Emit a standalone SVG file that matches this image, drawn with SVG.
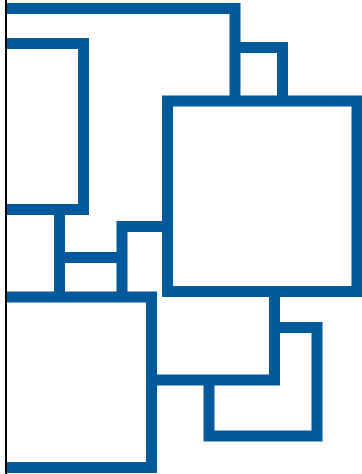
<svg xmlns="http://www.w3.org/2000/svg" width="362" height="474" viewBox="0 0 362 474">
<style>
.b{fill:none;stroke:#02599C;stroke-width:11;stroke-linejoin:miter;stroke-linecap:butt}
.k{stroke:#000;stroke-width:2}
</style>
<rect width="362" height="474" fill="#fff"/>
<g id="big"><rect class="b" x="167.5" y="101" width="189.5" height="190.5"/></g>
<g id="top"><path class="b" d="M5,8.5H235V101"/></g>
<g id="topSquare"><path class="b" d="M235,47.5H282.5V101"/></g>
<g id="upperLeft"><path class="b" d="M5,43.5H83.5V209.5H5"/></g>
<g id="midLeft"><path class="b" d="M59.5,209.5V297M59.5,257.5H122M122,297V226.5H167.5"/></g>
<g id="bottomLeft"><path class="b" d="M5,297H151.5V467.5H5"/></g>
<g id="link"><path class="b" d="M151.5,380H274.5V291.5"/></g>
<g id="bottomRight"><path class="b" d="M209,380V436H317V327.5H274.5"/></g>
<g id="axis"><line class="k" x1="6" y1="0" x2="6" y2="474"/></g>
</svg>
